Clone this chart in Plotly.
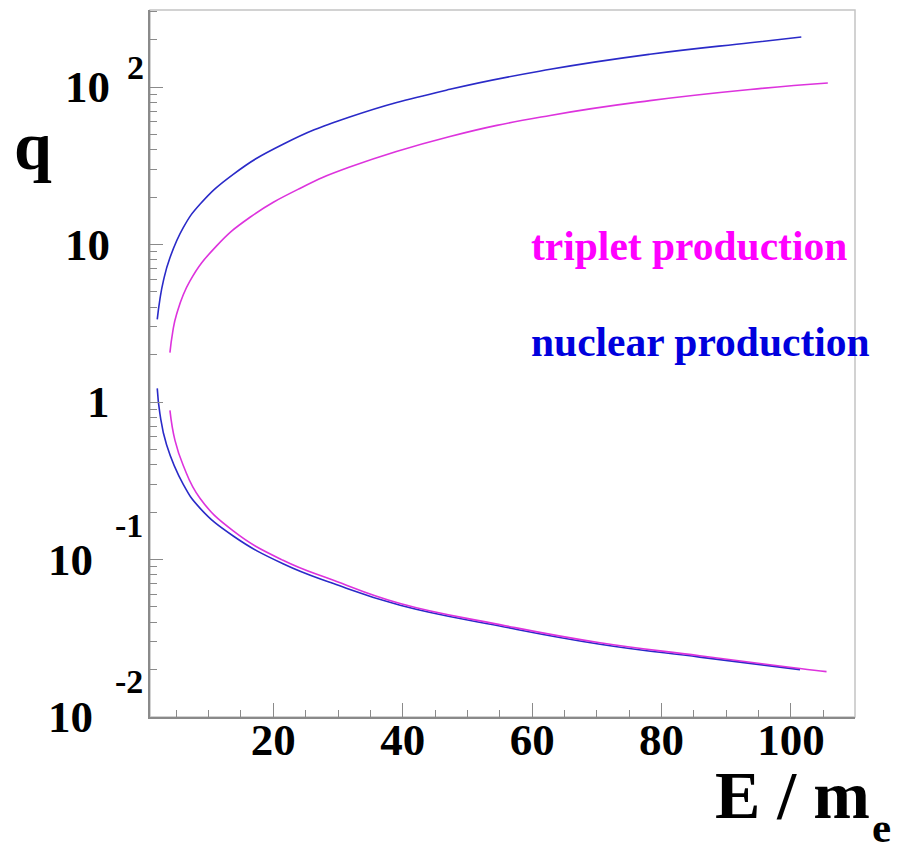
import plotly.graph_objects as go

# ---- data ----
# nuclear pair production (blue)
nuc_E_up = [2.06, 2.47, 3.0, 4.02, 6.08, 8.66, 13.8, 21.5, 31.8, 47.3, 62.8, 78.2, 93.7, 101.6]
nuc_q_up = [3.35, 4.49, 5.86, 8.24, 12.8, 18.0, 27.9, 43.3, 64.5, 96.7, 129.5, 161.4, 191.0, 207.6]
nuc_E_lo = [2.06, 2.47, 3.5, 6.08, 8.66, 13.8, 21.5, 29.3, 39.6, 55.0, 70.5, 85.9, 101.4]
nuc_q_lo = [1.22, 0.844, 0.535, 0.300, 0.212, 0.141, 0.094, 0.0703, 0.0512, 0.0378, 0.0290, 0.0240, 0.0200]

# triplet production (magenta)
tri_E_up = [4.02, 4.43, 5.05, 7.1, 11.2, 16.4, 24.1, 31.8, 47.3, 62.8, 78.2, 93.7, 105.7]
tri_q_up = [2.06, 2.75, 3.61, 5.86, 9.77, 14.9, 22.7, 31.0, 48.5, 66.0, 82.0, 96.5, 106.0]
tri_E_lo = [4.02, 4.8, 6.08, 8.66, 13.8, 21.5, 29.3, 39.6, 55.0, 70.5, 85.9, 101.4, 105.5]
tri_q_lo = [0.885, 0.571, 0.395, 0.245, 0.152, 0.0989, 0.0738, 0.0525, 0.0386, 0.0296, 0.0245, 0.0203, 0.0194]

x_major = [20, 40, 60, 80, 100]
y_major = [0.01, 0.1, 1, 10, 100]
y_minor = [m * d for d in (0.01, 0.1, 1, 10, 100) for m in range(2, 10)]

BLUE_LINE = "#2a2ac8"
PINK_LINE = "#dd33dd"
SERIF = "Liberation Serif"

fig = go.Figure()
for xs, ys, col in [(nuc_E_up, nuc_q_up, BLUE_LINE), (nuc_E_lo, nuc_q_lo, BLUE_LINE),
                    (tri_E_up, tri_q_up, PINK_LINE), (tri_E_lo, tri_q_lo, PINK_LINE)]:
    fig.add_trace(go.Scatter(x=xs, y=ys, mode="lines",
                             line=dict(color=col, width=1.6, shape="spline", smoothing=1.3),
                             showlegend=False, hoverinfo="skip"))

axcol = "#8a8a8a"
fig.update_layout(
    width=897, height=847,
    margin=dict(l=150, r=42, t=10, b=130),
    paper_bgcolor="white", plot_bgcolor="white",
    showlegend=False,
    xaxis=dict(range=[0.94, 109.9], showgrid=False, zeroline=False,
               showline=True, linecolor=axcol, linewidth=1.5,
               tickmode="array", tickvals=x_major, ticks="inside", ticklen=14,
               tickcolor=axcol, tickwidth=1, ticklabelstandoff=-18,
               tickfont=dict(family=SERIF, size=45, color="black", weight="bold"),
               minor=dict(dtick=5, tick0=0, ticks="inside", ticklen=7, tickcolor=axcol, showgrid=False)),
    yaxis=dict(type="log", range=[-2, 2.489], showgrid=False, zeroline=False,
               showline=True, linecolor=axcol, linewidth=1.5,
               tickmode="array", tickvals=y_major, ticks="inside", ticklen=13,
               tickcolor=axcol, tickwidth=1, showticklabels=False,
               minor=dict(tickmode="array", tickvals=y_minor, ticks="inside", ticklen=7,
                          tickcolor=axcol, showgrid=False)),
)

# frame (top/right)
fig.add_shape(type="rect", xref="paper", yref="paper", x0=0, y0=0, x1=1, y1=1,
              line=dict(color="#c4c4c4", width=1.5), layer="below")

def ann(text, x, y, xshift=0, yshift=0, size=45, color="black", xanchor="right",
        xref="paper", yref="y", yanchor="middle"):
    fig.add_annotation(text=text, x=x, y=y, xref=xref, yref=yref, showarrow=False,
                       xanchor=xanchor, yanchor=yanchor, xshift=xshift, yshift=yshift,
                       font=dict(family=SERIF, size=size, color=color, weight="bold"))

# y tick labels
ann("10", 0, 2, xshift=-38)
ann("2", 0, 2, xshift=-25, yshift=20, size=34, xanchor="left")
ann("10", 0, 1, xshift=-38)
ann("1", 0, 0, xshift=-38)
ann("10", 0, -1, xshift=-55)
ann("-1", 0, -1, xshift=-37, yshift=34, size=34, xanchor="left")
ann("10", 0, -2, xshift=-55)
ann("-2", 0, -2, xshift=-37, yshift=36, size=34, xanchor="left")

# axis titles
ann("q", 0, 0.808, xshift=-117, size=68, xanchor="center", yref="paper")
ann("E / m", 1, -0.0537, xshift=17, size=68, xanchor="right", yref="paper", yanchor="top")
ann("e", 1, -0.157, xshift=15, size=43, xanchor="left", yref="paper", yanchor="middle")

# labels
ann("triplet production", 0.5376, 0.666, size=41.5, color="#ff00ff", xanchor="left", yref="paper")
ann("nuclear production", 0.5376, 0.530, size=41.5, color="#0000dd", xanchor="left", yref="paper")

fig.write_html("out.html")
